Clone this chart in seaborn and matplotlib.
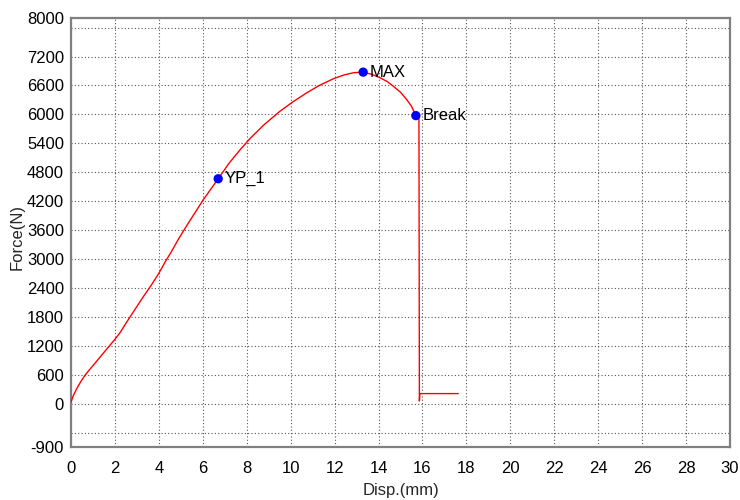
import matplotlib
matplotlib.use("Agg")
import matplotlib.pyplot as plt
import seaborn as sns
import pandas as pd

# ---- data ----
disp = [0.0, 0.1, 0.26, 0.45, 0.64, 0.9, 1.17, 1.45, 1.74, 2.0, 2.23, 2.45,
        2.69, 3.29, 3.65, 4.0, 4.3, 4.58, 4.9, 5.3, 6.02, 6.7, 7.2, 7.69,
        8.15, 8.8, 9.51, 10.1, 10.73, 11.3, 11.94, 12.4, 12.85, 13.3, 13.7,
        14.07, 14.4, 14.67, 15.0, 15.28, 15.5, 15.7, 15.84, 15.86, 15.88, 17.63]
force = [30, 160, 310, 460, 590, 735, 880, 1035, 1192, 1335, 1470, 1630,
         1800, 2217, 2455, 2704, 2950, 3160, 3420, 3715, 4228, 4665, 4990, 5262,
         5500, 5790, 6065, 6260, 6448, 6600, 6739, 6815, 6864, 6877, 6830,
         6760, 6680, 6585, 6460, 6308, 6170, 5975, 5900, 54, 208, 208]

point_names = ["YP_1", "MAX", "Break"]
point_disp = [6.7, 13.3, 15.7]
point_force = [4665, 6877, 5975]

x_ticks = [0, 2, 4, 6, 8, 10, 12, 14, 16, 18, 20, 22, 24, 26, 28, 30]
y_ticks = [-900, -600, 0, 600, 1200, 1800, 2400, 3000, 3600, 4200, 4800,
           5400, 6000, 6600, 7200, 7800, 8000]
y_tick_labels = ["-900", "", "0", "600", "1200", "1800", "2400", "3000", "3600",
                 "4200", "4800", "5400", "6000", "6600", "7200", "", "8000"]

x_label = "Disp.(mm)"
y_label = "Force(N)"

# ---- style ----
sns.set_style("white")
plt.rcParams["font.family"] = ["Liberation Sans", "DejaVu Sans"]

fig = plt.figure(figsize=(7.4, 5.0), dpi=100)
ax = fig.add_axes([71 / 740, 1 - 447 / 500, 659 / 740, 429 / 500])

curve = pd.DataFrame({"disp": disp, "force": force})
sns.lineplot(data=curve, x="disp", y="force", sort=False, estimator=None,
             color="#ff0000", linewidth=1.0, ax=ax, zorder=3)

pts = pd.DataFrame({"disp": point_disp, "force": point_force, "name": point_names})
sns.scatterplot(data=pts, x="disp", y="force", color="#0000ff", s=45,
                edgecolor="none", ax=ax, zorder=4)
for n, xv, yv in zip(point_names, point_disp, point_force):
    ax.annotate(n, (xv, yv), xytext=(5, 0), textcoords="offset points",
                ha="left", va="center", fontsize=12, color="black", zorder=5)

ax.set_xlim(0, 30)
ax.set_ylim(-900, 8000)
ax.set_xticks(x_ticks)
ax.set_xticklabels([str(t) for t in x_ticks])
ax.set_yticks(y_ticks)
ax.set_yticklabels(y_tick_labels)

ax.tick_params(axis="both", length=0, labelsize=12, colors="black")
ax.tick_params(axis="x", pad=10)
ax.tick_params(axis="y", pad=5)

ax.grid(True, linestyle=(0, (1, 2)), linewidth=0.8, color="#555555")
for sp in ax.spines.values():
    sp.set_visible(True)
    sp.set_color("#808080")
    sp.set_linewidth(1.6)

ax.set_xlabel(x_label, fontsize=12)
ax.set_ylabel(y_label, fontsize=12)
ax.xaxis.set_label_coords(0.5, -0.084)
ax.yaxis.set_label_coords(-0.071, 0.49)

fig.savefig("out.png", dpi=100)
